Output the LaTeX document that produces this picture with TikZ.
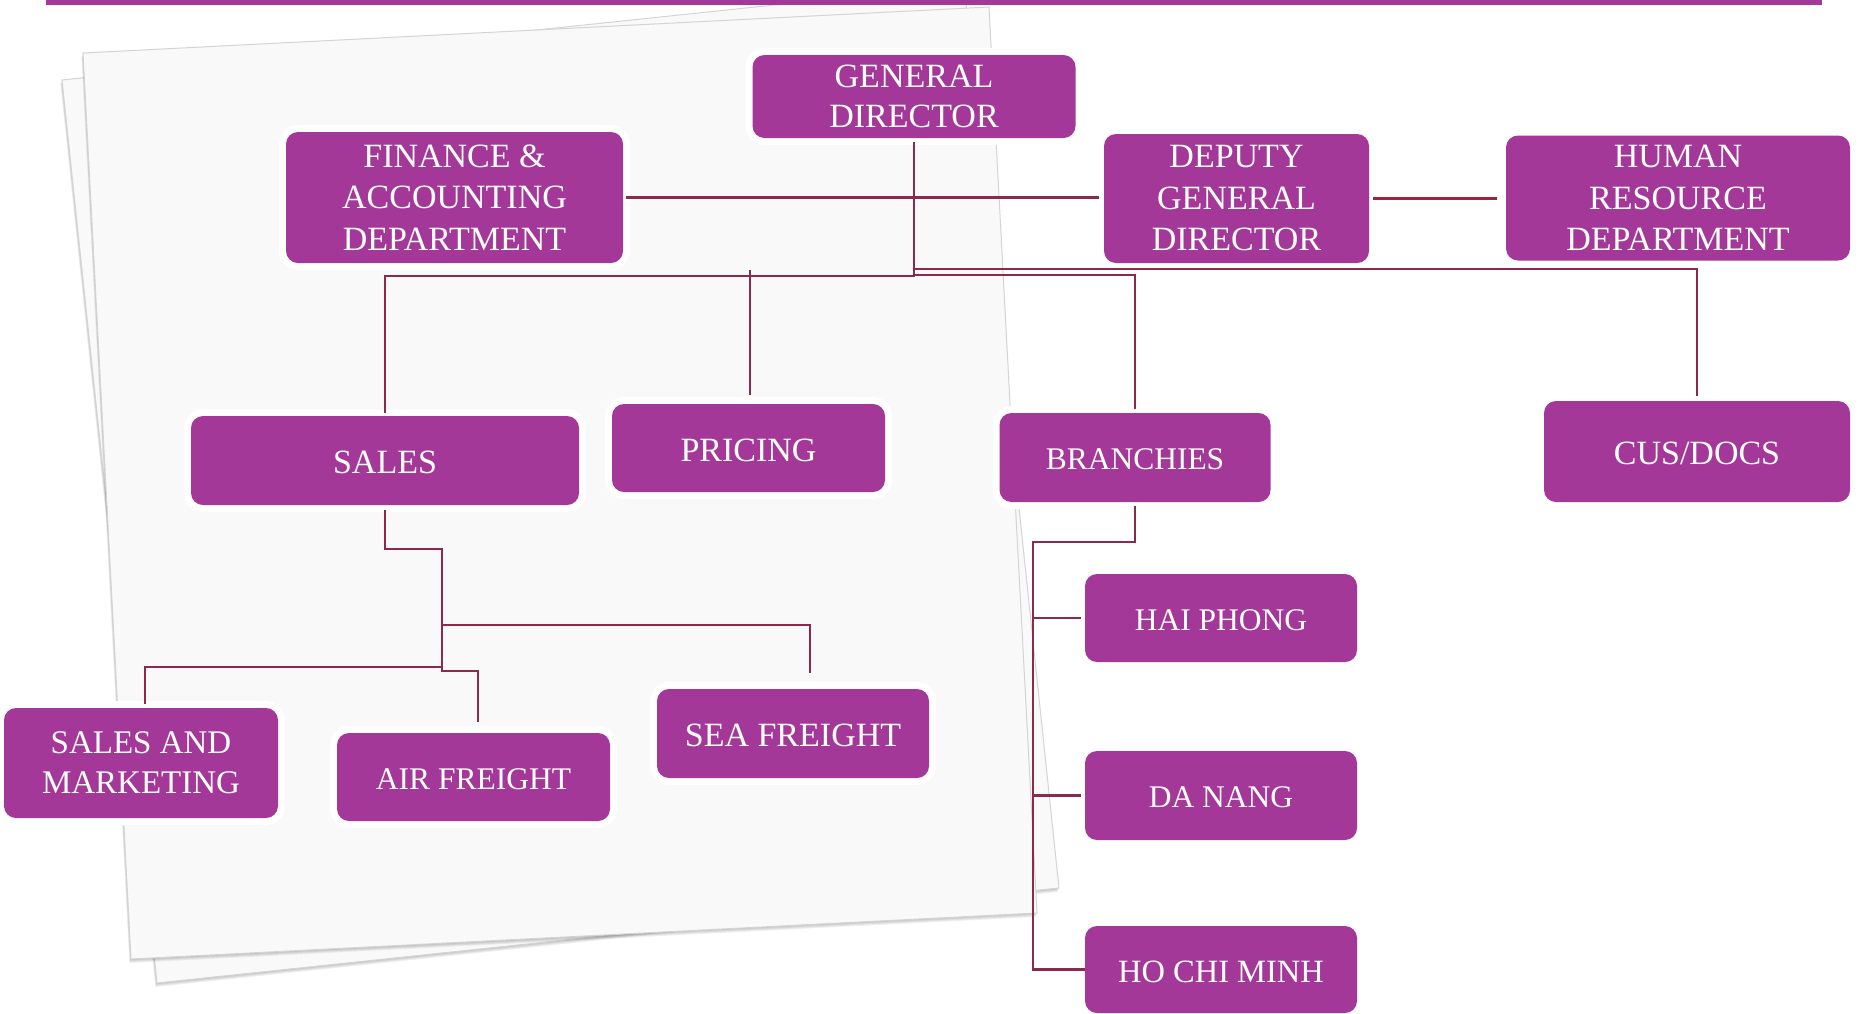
\documentclass[tikz,border=0pt]{standalone}
\usepackage{fontspec}
\setmainfont{Liberation Serif}
\definecolor{boxpurple}{HTML}{A43898}
\definecolor{linecol}{HTML}{8B2A4D}
\definecolor{paperfill}{HTML}{F9F9F9}
\definecolor{paperedge}{HTML}{D4D4D4}
\tikzset{
  orgbox/.style={rounded corners=12pt, fill=boxpurple, text=white, align=center,
    inner sep=0pt, preaction={draw=white, line width=14pt},
    font=\fontsize{34}{41.5}\selectfont,
    execute at begin node={\rule{0pt}{0.8em}}},
  multibox/.style={orgbox, execute at begin node={\rule{0pt}{0.9em}}},
  smalltext/.style={font=\fontsize{31.5}{37}\selectfont},
  conn/.style={draw=linecol, line width=2.6pt},
  sheet/.style={fill=paperfill, draw=paperedge, line width=1pt},
  sheetshadow/.style={fill=black, opacity=0.06},
}
\begin{document}
\begin{tikzpicture}[x=1pt,y=-1pt]
\useasboundingbox (0,0) rectangle (1860,1013);
\begin{scope}
\clip (0,0) rectangle (1860,1013);
% back sheet
\foreach \d in {1,2,3,4}{
  \fill[sheetshadow] (62-0.4*\d,80+\d) -- (964-0.4*\d,-15+\d) -- (1059-0.4*\d,888+\d) -- (157-0.4*\d,983+\d) -- cycle;
}
\draw[sheet] (62,80) -- (964,-15) -- (1059,888) -- (157,983) -- cycle;
% front sheet
\foreach \d in {1,2,3,4}{
  \fill[sheetshadow] (83-0.4*\d,53+\d) -- (989-0.4*\d,7+\d) -- (1037-0.4*\d,913+\d) -- (131-0.4*\d,959+\d) -- cycle;
}
\draw[sheet] (83,53) -- (989,7) -- (1037,913) -- (131,959) -- cycle;
% top bar
\fill[boxpurple] (46,-2) rectangle (1822,5);
\end{scope}

% boxes
\node[multibox, font=\fontsize{34}{40}\selectfont, minimum width=323pt, minimum height=83pt] (gd) at (914,96.5) {GENERAL\\DIRECTOR};
\node[multibox, minimum width=337pt, minimum height=131pt] (fin) at (454.5,197.5) {FINANCE \&\\ACCOUNTING\\DEPARTMENT};
\node[multibox, minimum width=265pt, minimum height=129pt] (dgd) at (1236.5,198.5) {DEPUTY\\GENERAL\\DIRECTOR};
\node[multibox, minimum width=344pt, minimum height=125pt] (hr) at (1678,198) {HUMAN\\RESOURCE\\DEPARTMENT};
\node[orgbox, minimum width=388pt, minimum height=89pt] (sales) at (385,460.5) {SALES};
\node[orgbox, minimum width=273pt, minimum height=88pt] (pricing) at (748.5,448) {PRICING};
\node[orgbox, smalltext, minimum width=271pt, minimum height=89pt] (branch) at (1135,457.5) {BRANCHIES};
\node[orgbox, minimum width=306pt, minimum height=101pt] (cus) at (1697,451.5) {CUS/DOCS};
\node[orgbox, smalltext, minimum width=272pt, minimum height=88pt] (hp) at (1221,618) {HAI PHONG};
\node[orgbox, smalltext, minimum width=272pt, minimum height=89pt] (dn) at (1221,795.5) {DA NANG};
\node[orgbox, font=\fontsize{32.5}{37}\selectfont, minimum width=272pt, minimum height=87pt] (hcm) at (1221,969.5) {HO CHI MINH};
\node[multibox, font=\fontsize{33}{40}\selectfont, minimum width=274pt, minimum height=110pt] (sam) at (141,763) {SALES AND\\MARKETING};
\node[orgbox, smalltext, minimum width=273pt, minimum height=88pt] (air) at (473.5,777) {AIR FREIGHT};
\node[orgbox, minimum width=272pt, minimum height=89pt] (sea) at (793,733.5) {SEA FREIGHT};

% junction coordinates
\coordinate (gdj) at (914,276);
\coordinate (cusj) at (914,269);
\coordinate (brj) at (914,275);
\coordinate (prj) at (750,270);
\coordinate (brs) at (1033,542);
\coordinate (sj1) at (442,549);
\coordinate (sj2) at (442,625);
\coordinate (sj3) at (442,667);
\coordinate (sj4) at (442,671);
\coordinate (seaj) at (810,673);
\coordinate (samj) at (145,704);
\coordinate (airj) at (478,722);

% connectors
\draw[conn, shorten <=4pt, shorten >=3pt] (gd.south) -- (gdj) -| (sales.north);
\draw[conn, shorten >=5pt] (cusj) -| (cus.north);
\draw[conn, shorten >=4pt] (brj) -| (branch.north);
\draw[conn, shorten >=9pt] (prj) -- (prj |- pricing.north);
\draw[conn, shorten <=3pt, shorten >=5pt] (fin.east) -- (fin.east -| dgd.west);
\draw[conn, draw=linecol!85!red, shorten <=4pt, shorten >=9pt] (dgd.east) -- (dgd.east -| hr.west);
\draw[conn, shorten <=4pt] (branch.south) |- (brs) |- (hcm.west);
\draw[conn, shorten >=4pt] (brs |- hp.west) -- (hp.west);
\draw[conn, shorten >=4pt] (brs |- dn.west) -- (dn.west);
\draw[conn, shorten <=5pt] (sales.south) |- (sj1) -- (sj4) -| (airj);
\draw[conn] (sj2) -| (seaj);
\draw[conn] (sj3) -| (samj);
\end{tikzpicture}
\end{document}
